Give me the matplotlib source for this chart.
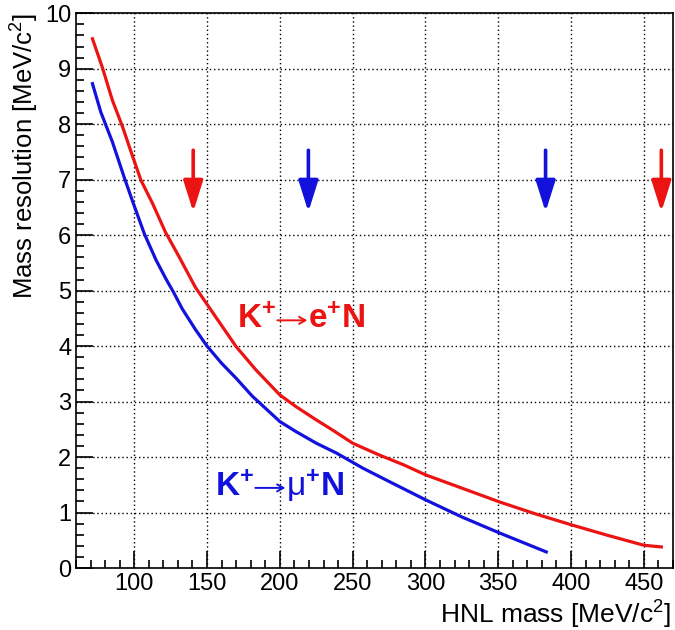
import matplotlib
matplotlib.use("Agg")
import matplotlib.pyplot as plt
from matplotlib.ticker import MultipleLocator
from matplotlib.transforms import offset_copy

plt.rcParams['font.family'] = ['Liberation Sans', 'DejaVu Sans']
plt.rcParams['mathtext.fontset'] = 'custom'
plt.rcParams['mathtext.rm'] = 'Liberation Sans'
plt.rcParams['mathtext.it'] = 'Liberation Sans:italic'
plt.rcParams['mathtext.bf'] = 'Liberation Sans:bold'

# K+ -> e+ N
mass_e = [71.3, 78, 85, 92, 99, 104.6, 112.6, 121.5, 131, 142, 154, 170, 183.6, 200,
          211, 225, 236, 250, 268, 285, 300, 325, 351, 375, 400, 425, 450, 462]
res_e = [9.54, 9.03, 8.43, 7.95, 7.41, 6.99, 6.57, 6.05, 5.60, 5.06, 4.60, 3.99, 3.57, 3.12,
         2.91, 2.67, 2.49, 2.25, 2.04, 1.86, 1.68, 1.44, 1.19, 0.98, 0.78, 0.59, 0.41, 0.38]

# K+ -> mu+ N
mass_mu = [71.3, 77, 85, 93, 99, 107, 115, 122, 127, 133, 142, 150, 160, 170, 181, 200,
           211, 225, 239, 257, 275, 300, 325, 351, 383]
res_mu = [8.73, 8.22, 7.68, 7.05, 6.60, 6.02, 5.55, 5.20, 4.97, 4.67, 4.30, 4.00, 3.69, 3.42, 3.10, 2.64,
          2.46, 2.25, 2.07, 1.80, 1.56, 1.23, 0.92, 0.63, 0.29]

# search region limits
arrows_e = [140.5, 462]
arrows_mu = [219.6, 382.5]

red = '#ec1313'
blue = '#1212dc'

fig = plt.figure(figsize=(6.75, 6.3), dpi=100)
ax = fig.add_axes([0.1126, 0.0984, 0.8844, 0.8806])

ax.plot(mass_e, res_e, color=red, lw=2.3)
ax.plot(mass_mu, res_mu, color=blue, lw=2.3)

style = '-|>,head_length=1.9,head_width=0.6'
for xs, col in [(arrows_e, red), (arrows_mu, blue)]:
    for xa in xs:
        ax.annotate('', xy=(xa, 6.42), xytext=(xa, 7.53),
                    arrowprops=dict(arrowstyle=style, color=col, lw=2.6,
                                    shrinkA=0, shrinkB=0))


def decay_label(x0, y0, product, col, gap):
    # "K+" , thin arrow, "l+N" placed side by side (offsets in pixels)
    ax.text(x0, y0, r'$\mathbf{K}^{\mathbf{+}}$', color=col, fontsize=24,
            va='baseline', ha='left')
    a0 = offset_copy(ax.transData, fig=fig, x=40, y=8, units='dots')
    a1 = offset_copy(ax.transData, fig=fig, x=gap - 1, y=8, units='dots')
    ax.annotate('', xy=(x0, y0), xycoords=a1, xytext=(x0, y0), textcoords=a0,
                arrowprops=dict(arrowstyle='->,head_length=0.45,head_width=0.25',
                                color=col, lw=1.4, shrinkA=0, shrinkB=0))
    ax.text(x0, y0, product, color=col, fontsize=24, va='baseline', ha='left',
            transform=offset_copy(ax.transData, fig=fig, x=gap, y=0, units='dots'))


decay_label(170.8, 4.32, r'$\mathbf{e}^{\mathbf{+}}\mathbf{N}$', red, 71)
decay_label(155.7, 1.30, r'$\mathrm{μ}^{\mathbf{+}}\mathbf{N}$', blue, 71)

ax.set_xlim(60, 470)
ax.set_ylim(0, 10)
ax.xaxis.set_major_locator(MultipleLocator(50))
ax.xaxis.set_minor_locator(MultipleLocator(10))
ax.yaxis.set_major_locator(MultipleLocator(1))
ax.yaxis.set_minor_locator(MultipleLocator(0.2))
ax.tick_params(which='both', direction='in', top=False, right=False, labelsize=17, width=1.2)
ax.tick_params(which='major', length=12)
ax.tick_params(which='minor', length=6)
ax.grid(True, which='major', color='black', linestyle=(0, (1, 2)), lw=1.0)
for s in ax.spines.values():
    s.set_linewidth(1.2)

ax.set_xlabel(r'HNL mass [MeV/c$^{2}$]', fontsize=19, ha='right')
ax.xaxis.set_label_coords(0.997, -0.055)
ax.set_ylabel(r'Mass resolution [MeV/c$^{2}$]', fontsize=18.5, ha='right')
ax.yaxis.set_label_coords(-0.058, 1.0)

fig.savefig('out.png', dpi=100)
